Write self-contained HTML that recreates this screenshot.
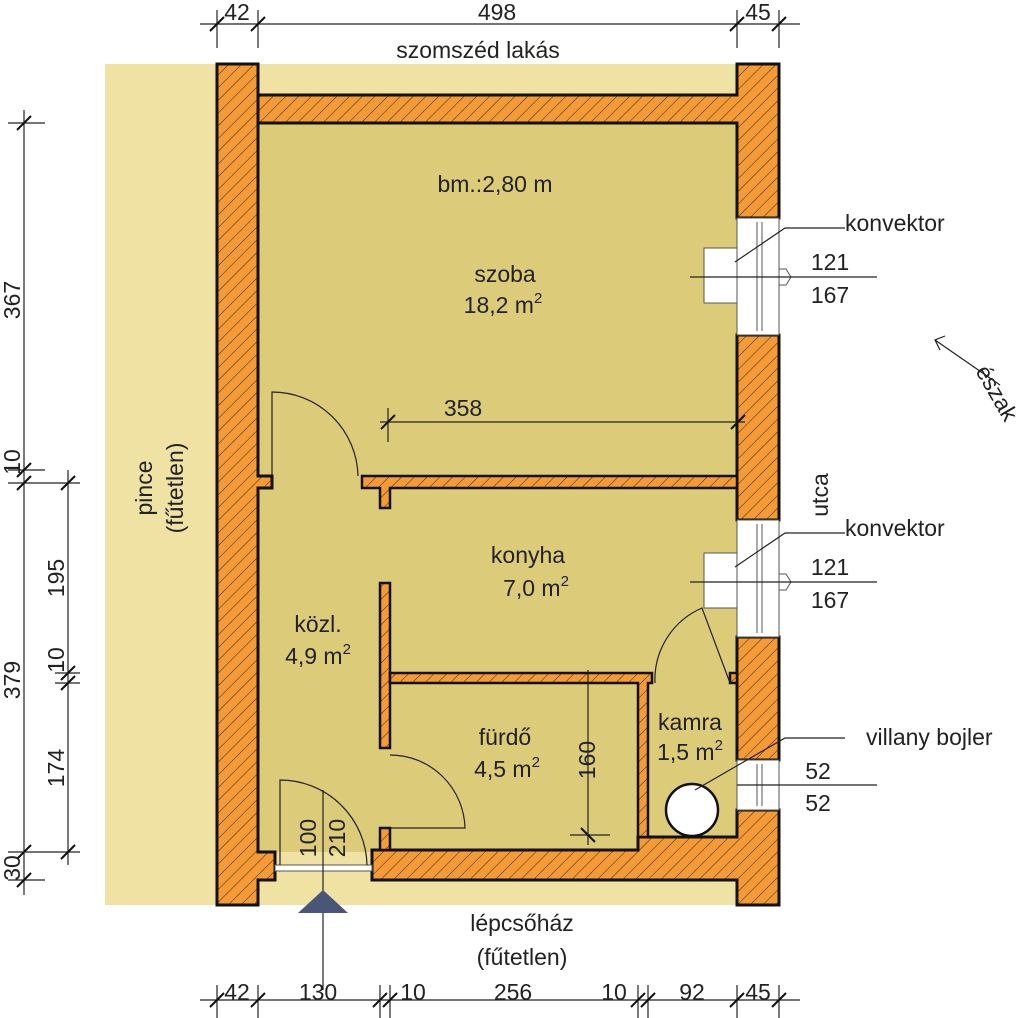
<!DOCTYPE html>
<html><head><meta charset="utf-8"><style>
html,body{margin:0;padding:0;background:#fff}
svg{display:block}
text{font-family:"Liberation Sans",sans-serif;fill:#222;font-size:23px}
</style></head><body>
<svg width="1024" height="1018" viewBox="0 0 1024 1018" xmlns="http://www.w3.org/2000/svg">
<defs>
<pattern id="h" patternUnits="userSpaceOnUse" width="9" height="9" patternTransform="rotate(45)">
<rect width="9" height="9" fill="#f49b37"/><line x1="0" y1="0" x2="0" y2="9" stroke="#3a2510" stroke-width="1"/>
</pattern>
</defs>
<rect x="105" y="64" width="674" height="841" fill="#efe2a3"/>
<rect x="258" y="123" width="479" height="729" fill="#dccb79"/>
<g fill="url(#h)" stroke="#111" stroke-width="3">
<path d="M217 64 H258 V476 H272 V488 H258 V852 H275 V880 H258 V905 H217 Z"/>
<path d="M258 95 H737 V64 H779 V218 H737 V123 H258 Z"/>
<rect x="737" y="335" width="42" height="185"/>
<rect x="737" y="637" width="42" height="123"/>
<path d="M372 850 H638 V837 H737 V810 H779 V905 H737 V880 H372 Z"/>
</g>
<g fill="url(#h)" stroke="#111" stroke-width="2.5">
<rect x="380" y="828" width="10" height="22"/>
<path d="M362 476 H737 V488 H390 V508 H380 V488 H362 Z"/>
<rect x="380" y="583" width="10" height="165"/>
<path d="M390 673 H652 V683 H648 V837 H638 V683 H390 Z"/>
<rect x="730" y="673" width="7" height="10"/>
</g>
<g fill="#fff" stroke="#555" stroke-width="1">
<rect x="737" y="218" width="42" height="117"/>
<rect x="737" y="520" width="42" height="117"/>
<rect x="737" y="760" width="42" height="50"/>
<line x1="757" y1="222" x2="757" y2="331"/><line x1="762" y1="222" x2="762" y2="331"/>
<line x1="757" y1="524" x2="757" y2="633"/><line x1="762" y1="524" x2="762" y2="633"/>
<line x1="757" y1="764" x2="757" y2="806"/><line x1="762" y1="764" x2="762" y2="806"/>
<path d="M779 269 L786 269 L791 277 L786 285 L779 285" fill="none"/>
<path d="M779 574 L786 574 L791 582 L786 590 L779 590" fill="none"/>
<rect x="704" y="248" width="33" height="55"/>
<rect x="704" y="553" width="33" height="55"/>
<rect x="275" y="865" width="97" height="6"/>
</g>
<circle cx="692" cy="810" r="26" fill="#fff" stroke="#111" stroke-width="2.5"/>
<g fill="none" stroke="#222" stroke-width="1.2">
<path d="M272 476 V392 A86 86 0 0 1 358 476"/>
<path d="M730 683 L702 608 A78 78 0 0 0 655 683"/>
<path d="M390 828 H465 A75 75 0 0 0 390 755"/>
<path d="M280 865 V780 A87 87 0 0 1 367 865"/>
</g>
<g stroke="#222" stroke-width="1.2" fill="none">
<line x1="200" y1="24" x2="800" y2="24"/>
<line x1="217" y1="10" x2="217" y2="48"/><line x1="258" y1="10" x2="258" y2="48"/>
<line x1="737" y1="10" x2="737" y2="48"/><line x1="779" y1="10" x2="779" y2="48"/>
<line x1="200" y1="1000" x2="800" y2="1000"/>
<line x1="217" y1="985" x2="217" y2="1018"/><line x1="258" y1="985" x2="258" y2="1018"/>
<line x1="380" y1="985" x2="380" y2="1018"/><line x1="390" y1="985" x2="390" y2="1018"/>
<line x1="638" y1="985" x2="638" y2="1018"/><line x1="648" y1="985" x2="648" y2="1018"/>
<line x1="737" y1="985" x2="737" y2="1018"/><line x1="779" y1="985" x2="779" y2="1018"/>
<line x1="24" y1="110" x2="24" y2="895"/>
<line x1="8" y1="123" x2="45" y2="123"/><line x1="8" y1="470" x2="45" y2="470"/>
<line x1="8" y1="483" x2="80" y2="483"/><line x1="8" y1="852" x2="80" y2="852"/>
<line x1="8" y1="880" x2="45" y2="880"/>
<line x1="68" y1="470" x2="68" y2="865"/>
<line x1="55" y1="673" x2="80" y2="673"/><line x1="55" y1="683" x2="80" y2="683"/>
<line x1="380" y1="422" x2="745" y2="422"/><line x1="388" y1="408" x2="388" y2="442"/>
<line x1="588" y1="670" x2="588" y2="845"/><line x1="570" y1="835" x2="610" y2="835"/>
<line x1="323" y1="790" x2="323" y2="990"/>
<line x1="690" y1="277" x2="877" y2="277"/><line x1="690" y1="582" x2="877" y2="582"/>
<line x1="737" y1="785" x2="877" y2="785"/>
<polyline points="735,262 785,228 845,228"/>
<polyline points="735,567 785,533 845,533"/>
<polyline points="695,790 785,738 845,738"/>
<line x1="1000" y1="385" x2="935" y2="340"/>
<polyline points="945,336 935,340 940,350"/>
</g>
<g stroke="#111" stroke-width="2">
<line x1="210" y1="31" x2="224" y2="17"/><line x1="251" y1="31" x2="265" y2="17"/>
<line x1="730" y1="31" x2="744" y2="17"/><line x1="772" y1="31" x2="786" y2="17"/>
<line x1="210" y1="1007" x2="224" y2="993"/><line x1="251" y1="1007" x2="265" y2="993"/>
<line x1="373" y1="1007" x2="387" y2="993"/><line x1="383" y1="1007" x2="397" y2="993"/>
<line x1="631" y1="1007" x2="645" y2="993"/><line x1="641" y1="1007" x2="655" y2="993"/>
<line x1="730" y1="1007" x2="744" y2="993"/><line x1="772" y1="1007" x2="786" y2="993"/>
<line x1="17" y1="130" x2="31" y2="116"/><line x1="17" y1="477" x2="31" y2="463"/>
<line x1="17" y1="490" x2="31" y2="476"/><line x1="17" y1="859" x2="31" y2="845"/>
<line x1="17" y1="887" x2="31" y2="873"/>
<line x1="61" y1="490" x2="75" y2="476"/><line x1="61" y1="680" x2="75" y2="666"/>
<line x1="61" y1="690" x2="75" y2="676"/><line x1="61" y1="859" x2="75" y2="845"/>
<line x1="381" y1="429" x2="395" y2="415"/><line x1="731" y1="429" x2="745" y2="415"/>
<line x1="581" y1="828" x2="595" y2="842"/>
</g>
<polygon points="298,913 348,913 323,890" fill="#4a5678"/>
<g text-anchor="middle">
<text x="237" y="20">42</text><text x="497" y="20">498</text><text x="758" y="20">45</text>
<text x="478" y="58">szomszéd lakás</text>
<text x="495" y="192">bm.:2,80 m</text>
<text x="505" y="282">szoba</text><text x="503" y="313">18,2 m<tspan dy="-10" font-size="15">2</tspan></text>
<text x="463" y="416">358</text>
<text x="528" y="563">konyha</text><text x="536" y="596">7,0 m<tspan dy="-10" font-size="15">2</tspan></text>
<text x="318" y="632">közl.</text><text x="318" y="664">4,9 m<tspan dy="-10" font-size="15">2</tspan></text>
<text x="505" y="745">fürdő</text><text x="507" y="777">4,5 m<tspan dy="-10" font-size="15">2</tspan></text>
<text x="690" y="730">kamra</text><text x="690" y="760">1,5 m<tspan dy="-10" font-size="15">2</tspan></text>
<text x="522" y="931" font-size="24">lépcsőház</text><text x="522" y="965" font-size="24">(fűtetlen)</text>
<text x="237" y="1000">42</text><text x="318" y="1000">130</text><text x="413" y="1000">10</text>
<text x="513" y="1000">256</text><text x="614" y="1000">10</text><text x="692" y="1000">92</text><text x="758" y="1000">45</text>
<text x="830" y="270">121</text><text x="830" y="303">167</text>
<text x="830" y="575">121</text><text x="830" y="608">167</text>
<text x="818" y="779">52</text><text x="818" y="811">52</text>
</g>
<text x="845" y="231">konvektor</text>
<text x="845" y="536">konvektor</text>
<text x="866" y="745">villany bojler</text>
<g text-anchor="middle">
<text transform="translate(20,300) rotate(-90)">367</text>
<text transform="translate(20,462) rotate(-90)">10</text>
<text transform="translate(20,680) rotate(-90)">379</text>
<text transform="translate(20,868) rotate(-90)">30</text>
<text transform="translate(64,578) rotate(-90)">195</text>
<text transform="translate(64,660) rotate(-90)">10</text>
<text transform="translate(64,768) rotate(-90)">174</text>
<text transform="translate(595,760) rotate(-90)">160</text>
<text transform="translate(316,838) rotate(-90)">100</text>
<text transform="translate(345,838) rotate(-90)">210</text>
<text transform="translate(152,488) rotate(-90)">pince</text>
<text transform="translate(183,488) rotate(-90)">(fűtetlen)</text>
<text transform="translate(828,495) rotate(-90)">utca</text>
<text transform="translate(990,397) rotate(60)">észak</text>
</g>
</svg>
</body></html>
